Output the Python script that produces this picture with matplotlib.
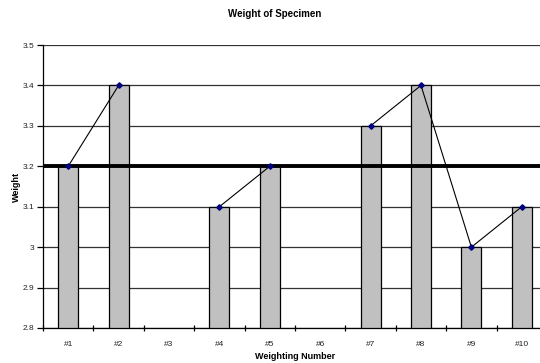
import numpy as np
import matplotlib
matplotlib.use("Agg")
import matplotlib.pyplot as plt

labels = ["#1", "#2", "#3", "#4", "#5", "#6", "#7", "#8", "#9", "#10"]
weights = [3.2, 3.4, np.nan, 3.1, 3.2, np.nan, 3.3, 3.4, 3.0, 3.1]
target = 3.2
yticks = [2.8, 2.9, 3.0, 3.1, 3.2, 3.3, 3.4, 3.5]
ytick_labels = ["2.8", "2.9", "3", "3.1", "3.2", "3.3", "3.4", "3.5"]

plt.rcParams['font.family'] = ['Liberation Sans', 'DejaVu Sans']
fig = plt.figure(figsize=(5.4, 3.63), dpi=100)
ax = fig.add_axes([43/540, 35/363, 504/540, 283/363])

x = np.arange(len(labels))
ax.set_xlim(-0.5, len(labels) - 0.5)
ax.set_ylim(2.8, 3.5)

for yv in yticks:
    ax.axhline(yv, color="#333333", lw=0.9, zorder=1)

bar_vals = [0 if np.isnan(v) else v for v in weights]
ax.bar(x, bar_vals, width=0.4, color="#c0c0c0", edgecolor="black", linewidth=0.9, zorder=2)
ax.axhline(target, color="black", lw=2.8, zorder=3)
ax.plot(x, weights, color="black", lw=0.8, marker="D", markersize=2.8,
        markerfacecolor="#000080", markeredgecolor="#000080", zorder=4)

ax.set_yticks(yticks)
ax.set_yticklabels(ytick_labels, fontsize=6, color="#222222")
ax.set_xticks(x)
ax.set_xticklabels(labels, fontsize=6, color="#222222")
ax.set_xticks(np.arange(-0.5, len(labels), 1), minor=True)
ax.tick_params(axis="x", which="major", length=0, pad=9)
ax.tick_params(axis="x", which="minor", length=4, direction="inout", width=0.9)
ax.tick_params(axis="y", length=4, direction="out", width=0.9, pad=2)

for s in ["top", "right"]:
    ax.spines[s].set_visible(False)
ax.spines["left"].set_linewidth(0.9)
ax.spines["bottom"].set_linewidth(0.9)

ax.set_xlabel("Weighting Number", fontsize=6.5, fontweight="bold", labelpad=3)
ax.set_ylabel("Weight", fontsize=6.5, fontweight="bold", labelpad=1.5)
fig.text(275/540, 1 - 14/363, "Weight of Specimen", fontsize=7, fontweight="bold",
         ha="center", va="center")

fig.savefig("out.png", dpi=100)
